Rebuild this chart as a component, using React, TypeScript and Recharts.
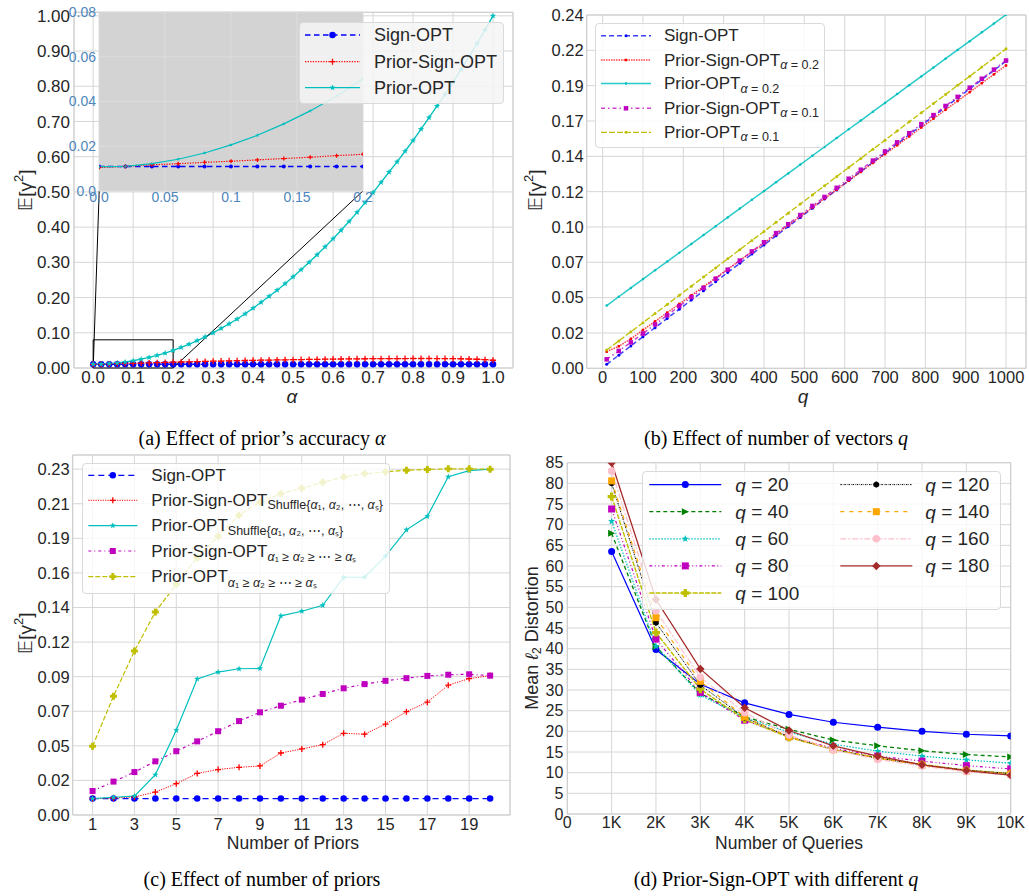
import React from 'react';
import {
  LineChart,
  Line,
  XAxis,
  YAxis,
  CartesianGrid,
  ReferenceArea,
  ReferenceLine,
  Legend,
} from 'recharts';

const W = 1029;
const H = 896;
const FONT = '"Liberation Sans", Arial, sans-serif';
const SERIF = '"Liberation Serif", "Times New Roman", serif';
const INK = '#262626';
const GRID = '#d6d6d6';

// (a) effect of prior's accuracy
const alphas = [0, 0.02, 0.04, 0.06, 0.08, 0.1, 0.12, 0.14, 0.16, 0.18, 0.2, 0.22, 0.24, 0.26, 0.28, 0.3, 0.32, 0.34, 0.36, 0.38, 0.4, 0.42, 0.44, 0.46, 0.48, 0.5, 0.52, 0.54, 0.56, 0.58, 0.6, 0.62, 0.64, 0.66, 0.68, 0.7, 0.72, 0.74, 0.76, 0.78, 0.8, 0.82, 0.84, 0.86, 0.88, 0.9, 0.92, 0.94, 0.96, 0.98, 1.0];
const signOptA = [0.011, 0.011, 0.011, 0.011, 0.011, 0.011, 0.011, 0.011, 0.011, 0.011, 0.011, 0.011, 0.011, 0.011, 0.011, 0.011, 0.011, 0.011, 0.011, 0.011, 0.011, 0.011, 0.011, 0.011, 0.011, 0.011, 0.011, 0.011, 0.011, 0.011, 0.011, 0.011, 0.011, 0.011, 0.011, 0.011, 0.011, 0.011, 0.011, 0.011, 0.011, 0.011, 0.011, 0.011, 0.011, 0.011, 0.011, 0.011, 0.011, 0.011, 0.011];
const priorSignA = [0.0105, 0.011, 0.0117, 0.0122, 0.0128, 0.0133, 0.0139, 0.0145, 0.0151, 0.0158, 0.0164, 0.017, 0.0176, 0.0182, 0.0188, 0.0193, 0.0198, 0.0203, 0.0208, 0.0213, 0.0217, 0.0221, 0.0225, 0.0229, 0.0233, 0.0237, 0.024, 0.0244, 0.0247, 0.025, 0.0253, 0.0256, 0.0258, 0.026, 0.0262, 0.0264, 0.0266, 0.0267, 0.0268, 0.0269, 0.027, 0.027, 0.027, 0.0269, 0.0268, 0.0266, 0.0262, 0.0256, 0.0248, 0.0236, 0.022];
const priorOptA = [0.0109, 0.011, 0.0122, 0.0142, 0.017, 0.0206, 0.0249, 0.03, 0.0358, 0.0425, 0.05, 0.0585, 0.0675, 0.0775, 0.0885, 0.1, 0.1125, 0.1255, 0.139, 0.154, 0.17, 0.1865, 0.2035, 0.221, 0.2395, 0.259, 0.279, 0.3, 0.3215, 0.344, 0.367, 0.391, 0.416, 0.442, 0.4695, 0.498, 0.527, 0.5565, 0.5855, 0.6155, 0.646, 0.678, 0.711, 0.744, 0.777, 0.811, 0.847, 0.884, 0.921, 0.96, 1.0];
const alphaTicks = [0, 0.1, 0.2, 0.3, 0.4, 0.5, 0.6, 0.7, 0.8, 0.9, 1.0];
const gammaTicksA = [0, 0.1, 0.2, 0.3, 0.4, 0.5, 0.6, 0.7, 0.8, 0.9, 1.0];
const insetXTicks = [0, 0.05, 0.1, 0.15, 0.2];
const insetYTicks = [0, 0.02, 0.04, 0.06, 0.08];

// (b) effect of number of vectors q
const qs = [10, 40, 70, 100, 130, 160, 190, 220, 250, 280, 310, 340, 370, 400, 430, 460, 490, 520, 550, 580, 610, 640, 670, 700, 730, 760, 790, 820, 850, 880, 910, 940, 970, 1000];
const signOptB = [0.0027, 0.0089, 0.0152, 0.0214, 0.0276, 0.0339, 0.0401, 0.0464, 0.0526, 0.0588, 0.0651, 0.0713, 0.0776, 0.0838, 0.09, 0.0963, 0.1025, 0.1088, 0.115, 0.1212, 0.1275, 0.1337, 0.14, 0.1462, 0.1524, 0.1587, 0.1649, 0.1712, 0.1774, 0.1836, 0.1899, 0.1961, 0.2024, 0.2086];
const priorSign02 = [0.0113, 0.015, 0.02, 0.026, 0.0319, 0.0378, 0.0437, 0.0496, 0.0555, 0.0614, 0.0673, 0.0732, 0.0791, 0.085, 0.0911, 0.0971, 0.1032, 0.1092, 0.1153, 0.1213, 0.1274, 0.1334, 0.1395, 0.1455, 0.1515, 0.1575, 0.1636, 0.1696, 0.1756, 0.1816, 0.1876, 0.1937, 0.1997, 0.2057];
const priorOpt02 = [0.0426, 0.0486, 0.0546, 0.0606, 0.0666, 0.0725, 0.0785, 0.0845, 0.0905, 0.0965, 0.1025, 0.1085, 0.1145, 0.1204, 0.1264, 0.1324, 0.1384, 0.1444, 0.1504, 0.1564, 0.1624, 0.1683, 0.1743, 0.1803, 0.1863, 0.1923, 0.1983, 0.2043, 0.2103, 0.2163, 0.2222, 0.2282, 0.2342, 0.2402];
const priorSign01 = [0.0061, 0.0118, 0.0176, 0.0236, 0.0298, 0.036, 0.0422, 0.0484, 0.0546, 0.0608, 0.067, 0.0732, 0.0794, 0.0856, 0.0918, 0.0979, 0.1041, 0.1103, 0.1164, 0.1226, 0.1288, 0.1349, 0.1411, 0.1473, 0.1535, 0.1597, 0.1658, 0.172, 0.1782, 0.1844, 0.1906, 0.1967, 0.2029, 0.2091];
const priorOpt01 = [0.0124, 0.0186, 0.0248, 0.031, 0.0372, 0.0434, 0.0496, 0.0558, 0.062, 0.0682, 0.0744, 0.0806, 0.0868, 0.093, 0.0992, 0.1054, 0.1116, 0.1178, 0.124, 0.1302, 0.1364, 0.1426, 0.1488, 0.155, 0.1612, 0.1674, 0.1736, 0.1798, 0.186, 0.1922, 0.1984, 0.2046, 0.2108, 0.217];
const qTicks = [0, 100, 200, 300, 400, 500, 600, 700, 800, 900, 1000];
const gammaTicksB = [0, 0.024, 0.048, 0.072, 0.096, 0.12, 0.144, 0.168, 0.192, 0.216, 0.24];

// (c) effect of number of priors
const priors = [1, 2, 3, 4, 5, 6, 7, 8, 9, 10, 11, 12, 13, 14, 15, 16, 17, 18, 19, 20];
const signOptC = [0.011, 0.011, 0.011, 0.011, 0.011, 0.011, 0.011, 0.011, 0.011, 0.011, 0.011, 0.011, 0.011, 0.011, 0.011, 0.011, 0.011, 0.011, 0.011, 0.011];
const priorSignShuffle = [0.011, 0.0114, 0.0121, 0.0154, 0.021, 0.0279, 0.0305, 0.032, 0.0329, 0.0416, 0.0443, 0.0472, 0.0548, 0.0542, 0.061, 0.0693, 0.0757, 0.0871, 0.0915, 0.0935];
const priorOptShuffle = [0.011, 0.0119, 0.0126, 0.027, 0.0568, 0.0913, 0.0959, 0.0981, 0.0983, 0.1336, 0.1367, 0.1407, 0.1595, 0.1595, 0.1736, 0.1913, 0.2004, 0.2269, 0.231, 0.232];
const priorSignOrdered = [0.0161, 0.0224, 0.0288, 0.036, 0.0428, 0.0494, 0.0562, 0.063, 0.0689, 0.0733, 0.0774, 0.0812, 0.085, 0.0878, 0.09, 0.0918, 0.0933, 0.0941, 0.0944, 0.0935];
const priorOptOrdered = [0.0461, 0.0797, 0.11, 0.1362, 0.1548, 0.1725, 0.187, 0.2011, 0.21, 0.2155, 0.2192, 0.2232, 0.2267, 0.2289, 0.2302, 0.2313, 0.2318, 0.2322, 0.2322, 0.232];
const priorTicks = [1, 3, 5, 7, 9, 11, 13, 15, 17, 19];
const gammaTicksC = [0, 0.0232, 0.0464, 0.0696, 0.0928, 0.116, 0.1392, 0.1624, 0.1856, 0.2088, 0.232];

// (d) Prior-Sign-OPT with different q
const queries = [1000, 2000, 3000, 4000, 5000, 6000, 7000, 8000, 9000, 10000];
const dist20 = [63.5, 39.8, 31.4, 26.9, 24.1, 22.2, 21.0, 20.0, 19.3, 18.9];
const dist40 = [67.9, 40.5, 29.2, 23.5, 20.5, 17.9, 16.5, 15.3, 14.4, 13.8];
const dist60 = [70.8, 40.6, 28.8, 23.3, 19.8, 16.9, 15.2, 14.0, 13.1, 12.3];
const dist80 = [73.8, 42.3, 29.4, 22.7, 18.7, 15.9, 14.0, 12.8, 11.7, 10.9];
const dist100 = [76.8, 43.9, 30.2, 22.9, 18.5, 15.6, 13.6, 12.0, 10.6, 9.8];
const dist120 = [80.0, 46.3, 31.2, 23.3, 18.7, 15.6, 13.5, 11.9, 10.6, 9.8];
const dist140 = [80.6, 47.5, 32.1, 23.5, 18.7, 15.6, 13.5, 11.8, 10.4, 9.7];
const dist160 = [83.0, 49.2, 33.1, 24.5, 19.1, 15.5, 13.2, 11.6, 10.2, 9.4];
const dist180 = [85.0, 51.9, 35.1, 25.7, 20.2, 16.5, 14.0, 11.9, 10.5, 9.4];
const queryTicks = [0, 1000, 2000, 3000, 4000, 5000, 6000, 7000, 8000, 9000, 10000];
const distTicks = [0, 5, 10, 15, 20, 25, 30, 35, 40, 45, 50, 55, 60, 65, 70, 75, 80, 85];

type Shape = 'circle' | 'plus' | 'star' | 'square' | 'tri' | 'diamond' | 'hex' | 'pplus';

interface Series {
  key: string;
  label: React.ReactNode;
  values: number[];
  color: string;
  dash?: string;
  lw: number;
  shape: Shape;
  size: number;
  opacity?: number;
}

const Marker = ({ cx, cy, shape, size, color }: { cx: number; cy: number; shape: Shape; size: number; color: string }) => {
  const s = size / 2;
  if (shape === 'circle') return <circle cx={cx} cy={cy} r={s} fill={color} />;
  if (shape === 'square') return <rect x={cx - s} y={cy - s} width={size} height={size} fill={color} />;
  if (shape === 'plus')
    return <path d={`M${cx - s},${cy}H${cx + s}M${cx},${cy - s}V${cy + s}`} stroke={color} strokeWidth={1.3} />;
  if (shape === 'tri')
    return <polygon points={`${cx + s},${cy} ${cx - s},${cy - s} ${cx - s},${cy + s}`} fill={color} />;
  if (shape === 'diamond')
    return <polygon points={`${cx},${cy - s} ${cx + s},${cy} ${cx},${cy + s} ${cx - s},${cy}`} fill={color} />;
  if (shape === 'pplus') {
    const t = s * 0.42;
    const p = [
      [-t, -s], [t, -s], [t, -t], [s, -t], [s, t], [t, t], [t, s], [-t, s], [-t, t], [-s, t], [-s, -t], [-t, -t],
    ];
    return <polygon points={p.map(([x, y]) => `${cx + x},${cy + y}`).join(' ')} fill={color} />;
  }
  const n = shape === 'star' ? 10 : 6;
  const pts: string[] = [];
  for (let i = 0; i < n; i++) {
    const rr = shape === 'star' ? (i % 2 === 0 ? s : s * 0.42) : s;
    const ang = -Math.PI / 2 + (i * 2 * Math.PI) / n;
    pts.push(`${cx + rr * Math.cos(ang)},${cy + rr * Math.sin(ang)}`);
  }
  return <polygon points={pts.join(' ')} fill={color} />;
};

const dotFn = (s: Series) => (p: any) => {
  if (p.cx == null || p.cy == null) return <g key={`e-${s.key}-${p.index}`} />;
  return <Marker key={`m-${s.key}-${p.index}`} cx={p.cx} cy={p.cy} shape={s.shape} size={s.size} color={s.color} />;
};

const renderLine = (s: Series) => (
  <Line
    key={s.key}
    type="linear"
    dataKey={s.key}
    stroke={s.color}
    strokeOpacity={s.opacity ?? 1}
    strokeWidth={s.lw}
    strokeDasharray={s.dash}
    dot={dotFn(s)}
    activeDot={false}
    isAnimationActive={false}
  />
);

const build = (xs: number[], xKey: string, series: Series[], count = xs.length) =>
  xs.slice(0, count).map((x, i) => {
    const row: any = { [xKey]: x };
    series.forEach((s) => (row[s.key] = s.values[i]));
    return row;
  });

interface LegendItem {
  s: Series;
  y: number;
  x0: number;
  x1: number;
  tx: number;
}

const LegendBox = ({ w, h, bg, fontSize, items }: { w: number; h: number; bg: string; fontSize: number; items: LegendItem[] }) => (
  <div
    style={{
      width: w,
      height: h,
      background: bg,
      border: '1px solid #dadada',
      borderRadius: 4,
      boxSizing: 'border-box',
      position: 'relative',
    }}
  >
    <svg width={w} height={h} style={{ position: 'absolute', left: -1, top: -1, overflow: 'visible' }}>
      {items.map((it) => (
        <g key={it.s.key}>
          <line
            x1={it.x0}
            x2={it.x1}
            y1={it.y}
            y2={it.y}
            stroke={it.s.color}
            strokeOpacity={it.s.opacity ?? 1}
            strokeWidth={it.s.lw}
            strokeDasharray={it.s.dash}
          />
          <Marker cx={(it.x0 + it.x1) / 2} cy={it.y} shape={it.s.shape} size={it.s.size} color={it.s.color} />
          <text x={it.tx} y={it.y} dominantBaseline="central" fontSize={fontSize} fill={INK} fontFamily={FONT}>
            {it.s.label}
          </text>
        </g>
      ))}
    </svg>
  </div>
);

const tick = (fs: number, fill = INK) => ({ fontSize: fs, fill, fontFamily: FONT });
const fmt2 = (v: number) => v.toFixed(2);
const fmt1 = (v: number) => v.toFixed(1);
const fmtInset = (v: number) => (v === 0 ? '0.0' : String(v));
const fmtK = (v: number) => (v === 0 ? '0' : `${v / 1000}K`);

const Sub = ({ children, dy = 5, fs = 12 }: { children: React.ReactNode; dy?: number; fs?: number }) => (
  <tspan dy={dy} fontSize={fs}>
    {children}
  </tspan>
);
const It = ({ children }: { children: React.ReactNode }) => <tspan fontStyle="italic">{children}</tspan>;

// series definitions
const seriesA: Series[] = [
  { key: 'sign', label: 'Sign-OPT', values: signOptA, color: '#0000ff', dash: '5.5 3.5', lw: 1.5, shape: 'circle', size: 6.5 },
  { key: 'psign', label: 'Prior-Sign-OPT', values: priorSignA, color: '#ff0000', dash: '1.3 1.3', lw: 1.2, shape: 'plus', size: 6 },
  { key: 'popt', label: 'Prior-OPT', values: priorOptA, color: '#00bfbf', lw: 1.3, shape: 'star', size: 6.5 },
];
const seriesInset: Series[] = seriesA.map((s) => ({ ...s, size: 4, lw: s.shape === 'circle' ? 1.5 : 1.2 }));

const subA = (t: string) => (
  <Sub dy={5} fs={12.5}>
    <It>α</It> = {t}
  </Sub>
);
const seriesB: Series[] = [
  { key: 'sign', label: 'Sign-OPT', values: signOptB, color: '#0000ff', dash: '5 3', lw: 1.5, shape: 'circle', size: 3, opacity: 0.75 },
  { key: 'ps2', label: <>Prior-Sign-OPT{subA('0.2')}</>, values: priorSign02, color: '#ff0000', dash: '1.5 1', lw: 1.5, shape: 'square', size: 2.5, opacity: 0.75 },
  { key: 'po2', label: <>Prior-OPT{subA('0.2')}</>, values: priorOpt02, color: '#00bfbf', lw: 1.5, shape: 'circle', size: 2.5, opacity: 0.85 },
  { key: 'ps1', label: <>Prior-Sign-OPT{subA('0.1')}</>, values: priorSign01, color: '#bf00bf', dash: '4 3 1.5 3', lw: 1.5, shape: 'square', size: 4.5, opacity: 0.75 },
  { key: 'po1', label: <>Prior-OPT{subA('0.1')}</>, values: priorOpt01, color: '#bfbf00', dash: '6 2', lw: 1.3, shape: 'circle', size: 3 },
];

const shuffleSub = (
  <Sub dy={5} fs={12.5}>
    Shuffle{'{'}
    <It>α</It>₁, <It>α</It>₂, ⋯, <It>α</It>ₛ{'}'}
  </Sub>
);
const orderSub = (
  <Sub dy={6} fs={12.5}>
    <It>α</It>₁ ≥ <It>α</It>₂ ≥ ⋯ ≥ <It>α</It>ₛ
  </Sub>
);
const seriesC: Series[] = [
  { key: 'sign', label: 'Sign-OPT', values: signOptC, color: '#0000ff', dash: '6 4', lw: 1.2, shape: 'circle', size: 6.5 },
  { key: 'pss', label: <>Prior-Sign-OPT{shuffleSub}</>, values: priorSignShuffle, color: '#ff0000', dash: '1.2 1.2', lw: 1, shape: 'plus', size: 6 },
  { key: 'pos', label: <>Prior-OPT{shuffleSub}</>, values: priorOptShuffle, color: '#00bfbf', lw: 1.2, shape: 'star', size: 6.5 },
  { key: 'pso', label: <>Prior-Sign-OPT{orderSub}</>, values: priorSignOrdered, color: '#bf00bf', dash: '3 3 1 3', lw: 1.2, shape: 'square', size: 6 },
  { key: 'poo', label: <>Prior-OPT{orderSub}</>, values: priorOptOrdered, color: '#bfbf00', dash: '5 2', lw: 1.2, shape: 'pplus', size: 7 },
];

const qLabel = (n: number) => (
  <>
    <It>q</It> = {n}
  </>
);
const seriesD: Series[] = [
  { key: 'q20', label: qLabel(20), values: dist20, color: '#0000ff', lw: 1.2, shape: 'circle', size: 7 },
  { key: 'q40', label: qLabel(40), values: dist40, color: '#008000', dash: '4 3', lw: 1.3, shape: 'tri', size: 7 },
  { key: 'q60', label: qLabel(60), values: dist60, color: '#00bfbf', dash: '1.5 1.5', lw: 1.2, shape: 'star', size: 7.5 },
  { key: 'q80', label: qLabel(80), values: dist80, color: '#bf00bf', dash: '3 2.5 1 2.5 1 2.5', lw: 1.2, shape: 'square', size: 7 },
  { key: 'q100', label: qLabel(100), values: dist100, color: '#bfbf00', dash: '5 1.2', lw: 1.4, shape: 'pplus', size: 8 },
  { key: 'q120', label: qLabel(120), values: dist120, color: '#000000', dash: '1.5 1 0.6 1', lw: 1, shape: 'hex', size: 6.5 },
  { key: 'q140', label: qLabel(140), values: dist140, color: '#ffa500', dash: '4 5', lw: 1.2, shape: 'square', size: 7 },
  { key: 'q160', label: qLabel(160), values: dist160, color: '#ffc0cb', dash: '6 2 2 2', lw: 1.2, shape: 'circle', size: 7.5 },
  { key: 'q180', label: qLabel(180), values: dist180, color: '#a52a2a', lw: 1.3, shape: 'diamond', size: 8.5 },
];

const dataA = build(alphas, 'a', seriesA);
const dataInset = build(alphas, 'a', seriesInset, 11);
const dataB = build(qs, 'q', seriesB);
const dataC = build(priors, 'n', seriesC);
const dataD = build(queries, 'k', seriesD);

// plot rectangles [x0, y0, x1, y1] in page pixels
const rectA = [74, 12.3, 513, 368];
const rectInset = [99, 12, 363, 191];
const rectB = [586.7, 15, 1026, 368.3];
const rectC = [72.7, 455, 510, 815];
const rectD = [567.3, 462.7, 1010.7, 814];

const YW = 60;
const XH = 30;
const marginFor = (r: number[], yw = YW, xh = XH) => ({ left: r[0] - yw, top: r[1], right: W - r[2], bottom: H - r[3] - xh });

const Layer = ({ children }: { children: React.ReactNode }) => (
  <div style={{ position: 'absolute', left: 0, top: 0, width: W, height: H }}>{children}</div>
);

const Frame = ({ x, y }: { x: number[]; y: number[] }) => (
  <ReferenceArea x1={x[0]} x2={x[1]} y1={y[0]} y2={y[1]} fill="none" fillOpacity={0} stroke="#cdcdcd" strokeWidth={1} ifOverflow="visible" />
);

const GammaLabel = ({ x, y }: { x: number; y: number }) => (
  <text x={x} y={y} transform={`rotate(-90 ${x} ${y})`} dominantBaseline="central" fontSize={19}>
    <tspan fontFamily='"DejaVu Sans", sans-serif' fontWeight={300}>𝔼</tspan>
    <tspan>[γ</tspan>
    <tspan dy={-7} fontSize={13}>2</tspan>
    <tspan dy={7}>]</tspan>
  </text>
);

export default function App() {
  return (
    <div style={{ position: 'absolute', left: 0, top: 0, width: W, height: H, background: '#fff', fontFamily: FONT }}>
      {/* (a) */}
      <Layer>
        <LineChart width={W} height={H} data={dataA} margin={marginFor(rectA)}>
          <CartesianGrid stroke={GRID} />
          <XAxis dataKey="a" type="number" domain={[-0.048, 1.05]} ticks={alphaTicks} interval={0} tickFormatter={fmt1} tickLine={false} axisLine={false} tickSize={0} tickMargin={3} height={XH} tick={tick(17)} allowDataOverflow />
          <YAxis type="number" domain={[0, 1.01]} ticks={gammaTicksA} interval={0} tickFormatter={fmt2} tickLine={false} axisLine={false} tickSize={0} tickMargin={4} width={YW} tick={tick(17)} allowDataOverflow />
          <Frame x={[-0.048, 1.05]} y={[0, 1.01]} />
          {seriesA.map(renderLine)}
          <ReferenceArea x1={0} x2={0.2} y1={0} y2={0.08} fill="none" fillOpacity={0} stroke="#000" strokeWidth={1} ifOverflow="visible" />
          <ReferenceLine segment={[{ x: 0, y: 0 }, { x: 0.015, y: 0.503 }]} stroke="#000" strokeWidth={1} ifOverflow="visible" />
          <ReferenceLine segment={[{ x: 0.2, y: 0 }, { x: 0.675, y: 0.503 }]} stroke="#000" strokeWidth={1} ifOverflow="visible" />
          <Legend
            layout="vertical"
            align="center"
            verticalAlign="middle"
            wrapperStyle={{ left: 299, top: 22, width: 205, height: 82, zIndex: 5 }}
            content={() => (
              <LegendBox
                w={205}
                h={82}
                bg="rgba(244,244,244,0.86)"
                fontSize={18}
                items={seriesA.map((s, i) => ({ s, y: [13, 39.7, 65.7][i], x0: 6, x1: 61, tx: 75 }))}
              />
            )}
          />
        </LineChart>
      </Layer>

      {/* (a) inset */}
      <Layer>
        <LineChart width={W} height={H} data={dataInset} margin={marginFor(rectInset, 40, 25)}>
          <CartesianGrid stroke="#dcdcdc" fill="#d3d3d3" />
          <XAxis dataKey="a" type="number" domain={[0, 0.2]} ticks={insetXTicks} interval={0} tickFormatter={fmtInset} tickLine={false} axisLine={false} tickSize={0} tickMargin={1} height={25} tick={tick(14, '#4f86bd')} allowDataOverflow />
          <YAxis type="number" domain={[0, 0.08]} ticks={insetYTicks} interval={0} tickFormatter={fmtInset} tickLine={false} axisLine={false} tickSize={0} tickMargin={3} width={40} tick={tick(14, '#4f86bd')} allowDataOverflow />
          {seriesInset.map(renderLine)}
        </LineChart>
      </Layer>

      {/* (b) */}
      <Layer>
        <LineChart width={W} height={H} data={dataB} margin={marginFor(rectB)}>
          <CartesianGrid stroke={GRID} />
          <XAxis dataKey="q" type="number" domain={[-39.5, 1049.5]} ticks={qTicks} interval={0} tickLine={false} axisLine={false} tickSize={0} tickMargin={3} height={XH} tick={tick(16.5)} allowDataOverflow />
          <YAxis type="number" domain={[0, 0.24]} ticks={gammaTicksB} interval={0} tickFormatter={fmt2} tickLine={false} axisLine={false} tickSize={0} tickMargin={3} width={YW} tick={tick(16.5)} allowDataOverflow />
          <Frame x={[-39.5, 1049.5]} y={[0, 0.24]} />
          {seriesB.map(renderLine)}
          <Legend
            layout="vertical"
            align="center"
            verticalAlign="middle"
            wrapperStyle={{ left: 595, top: 23, width: 230, height: 125, zIndex: 5 }}
            content={() => (
              <LegendBox
                w={230}
                h={125}
                bg="rgba(255,255,255,0.85)"
                fontSize={17}
                items={seriesB.map((s, i) => ({ s, y: [12.7, 37, 60.5, 85.3, 109.3][i], x0: 6, x1: 56, tx: 69 }))}
              />
            )}
          />
        </LineChart>
      </Layer>

      {/* (c) */}
      <Layer>
        <LineChart width={W} height={H} data={dataC} margin={marginFor(rectC)}>
          <CartesianGrid stroke={GRID} />
          <XAxis dataKey="n" type="number" domain={[0.05, 20.95]} ticks={priorTicks} interval={0} tickLine={false} axisLine={false} tickSize={0} tickMargin={3} height={XH} tick={tick(16.5)} allowDataOverflow />
          <YAxis type="number" domain={[0, 0.2415]} ticks={gammaTicksC} interval={0} tickFormatter={fmt2} tickLine={false} axisLine={false} tickSize={0} tickMargin={3} width={YW} tick={tick(16.5)} allowDataOverflow />
          <Frame x={[0.05, 20.95]} y={[0, 0.2415]} />
          {seriesC.map(renderLine)}
          <Legend
            layout="vertical"
            align="center"
            verticalAlign="middle"
            wrapperStyle={{ left: 81.7, top: 462.7, width: 308.3, height: 131.3, zIndex: 5 }}
            content={() => (
              <LegendBox
                w={308.3}
                h={131.3}
                bg="rgba(255,255,255,0.8)"
                fontSize={17}
                items={seriesC.map((s, i) => ({ s, y: [12.3, 37.3, 62.6, 88, 113.6][i], x0: 6.3, x1: 55.3, tx: 69.3 }))}
              />
            )}
          />
        </LineChart>
      </Layer>

      {/* (d) */}
      <Layer>
        <LineChart width={W} height={H} data={dataD} margin={marginFor(rectD)}>
          <CartesianGrid stroke={GRID} />
          <XAxis dataKey="k" type="number" domain={[0, 10000]} ticks={queryTicks} interval={0} tickFormatter={fmtK} tickLine={false} axisLine={false} tickSize={0} tickMargin={3} height={XH} tick={tick(16)} allowDataOverflow />
          <YAxis type="number" domain={[0, 85]} ticks={distTicks} interval={0} tickLine={false} axisLine={false} tickSize={0} tickMargin={4} width={YW} tick={tick(16)} allowDataOverflow />
          <Frame x={[0, 10000]} y={[0, 85]} />
          {seriesD.map(renderLine)}
          <Legend
            layout="vertical"
            align="center"
            verticalAlign="middle"
            wrapperStyle={{ left: 641.7, top: 470.7, width: 359.3, height: 139.3, zIndex: 5 }}
            content={() => (
              <LegendBox
                w={359.3}
                h={139.3}
                bg="rgba(255,255,255,0.8)"
                fontSize={19}
                items={seriesD.map((s, i) => {
                  const col = i < 5 ? 0 : 1;
                  const row = i < 5 ? i : i - 5;
                  return {
                    s,
                    y: 13.6 + row * 27.1,
                    x0: col ? 198.3 : 7.3,
                    x1: col ? 270.3 : 79.3,
                    tx: col ? 283.3 : 93.3,
                  };
                })}
              />
            )}
          />
        </LineChart>
      </Layer>

      {/* axis titles and captions */}
      <svg width={W} height={H} style={{ position: 'absolute', left: 0, top: 0, zIndex: 6, pointerEvents: 'none' }}>
        <g fontFamily={FONT} fill={INK} fontSize={17.5} textAnchor="middle">
          <text x={292} y={396} dominantBaseline="central" fontStyle="italic" fontSize={19}>α</text>
          <text x={803} y={396} dominantBaseline="central" fontStyle="italic" fontSize={19}>q</text>
          <text x={293} y={843} dominantBaseline="central">Number of Priors</text>
          <text x={789} y={843} dominantBaseline="central">Number of Queries</text>
          <GammaLabel x={25} y={190} />
          <GammaLabel x={535} y={190} />
          <GammaLabel x={25} y={633} />
          <text x={532} y={638} transform="rotate(-90 532 638)" dominantBaseline="central" fontSize={18}>
            Mean <tspan fontStyle="italic">ℓ</tspan>
            <tspan dy={5} fontSize={12}>2</tspan>
            <tspan dy={-5}> Distortion</tspan>
          </text>
        </g>
        <g fontFamily={SERIF} fill="#000" fontSize={20} textAnchor="middle">
          <text x={262} y={445}>
            (a) Effect of prior’s accuracy <tspan fontStyle="italic">α</tspan>
          </text>
          <text x={776} y={445}>
            (b) Effect of number of vectors <tspan fontStyle="italic">q</tspan>
          </text>
          <text x={262} y={886}>(c) Effect of number of priors</text>
          <text x={776} y={886}>
            (d) Prior-Sign-OPT with different <tspan fontStyle="italic">q</tspan>
          </text>
        </g>
      </svg>
    </div>
  );
}
